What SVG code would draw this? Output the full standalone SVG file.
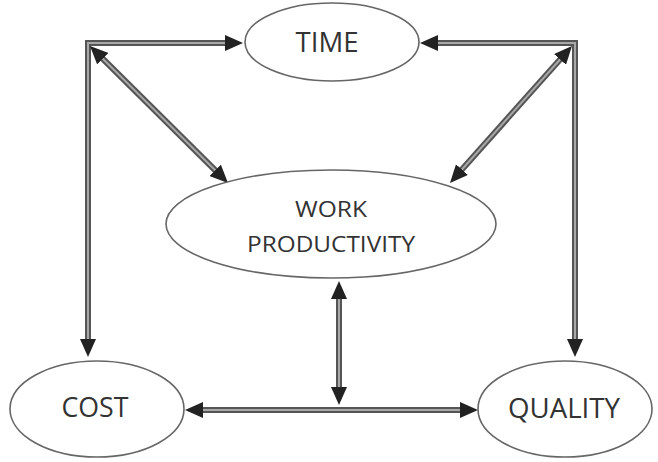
<svg xmlns="http://www.w3.org/2000/svg" width="658" height="462" viewBox="0 0 658 462">
<style>
.node ellipse{fill:#fff;stroke:#666;stroke-width:1.6}
.node text{font-family:"Open Sans","Liberation Sans",Arial,sans-serif;fill:#333;text-anchor:middle}
.big{font-size:27px}
.small{font-size:21px}
.outer{fill:none;stroke:#555;stroke-width:6;stroke-linejoin:miter}
.inner{fill:none;stroke:#a8a8a8;stroke-width:2;stroke-linejoin:miter}
.tips{fill:none;stroke:none;marker-start:url(#ah);marker-end:url(#ah)}
</style>
<defs>
<marker id="ah" viewBox="0 0 18 16" refX="18" refY="8" markerWidth="18" markerHeight="16" markerUnits="userSpaceOnUse" orient="auto-start-reverse">
<path d="M0,0 L18,8 L0,16 z" fill="#222"/>
</marker>
</defs>
<rect width="658" height="462" fill="#fff"/>
<g id="connectors">
<path class="outer" d="M234,43 L88,43 L88,348"/>
<path class="inner" d="M234,43 L88,43 L88,348"/>
<path class="tips" d="M243,43 L88,43 L88,357"/>
<path class="outer" d="M430,43 L575,43 L575,348"/>
<path class="inner" d="M430,43 L575,43 L575,348"/>
<path class="tips" d="M420,43 L575,43 L575,357"/>
<path class="outer" d="M97,53 L221,176"/>
<path class="inner" d="M97,53 L221,176"/>
<path class="tips" d="M90,46 L228,183"/>
<path class="outer" d="M565.4,53.5 L456.6,175.5"/>
<path class="inner" d="M565.4,53.5 L456.6,175.5"/>
<path class="tips" d="M572,46 L450,183"/>
<path class="outer" d="M195,410 L468,410"/>
<path class="inner" d="M195,410 L468,410"/>
<path class="tips" d="M185,410 L478,410"/>
<path class="outer" d="M339,291 L339,395"/>
<path class="inner" d="M339,291 L339,395"/>
<path class="tips" d="M339,281 L339,405"/>
</g>
<g id="time" class="node">
<ellipse cx="332" cy="42" rx="87" ry="39"/>
<text class="big" x="327" y="52" textLength="63" lengthAdjust="spacingAndGlyphs">TIME</text>
</g>
<g id="work-productivity" class="node">
<ellipse cx="331" cy="224" rx="165" ry="54"/>
<text class="small" x="331" y="217" textLength="72" lengthAdjust="spacingAndGlyphs">WORK</text>
<text class="small" x="331" y="252" textLength="168" lengthAdjust="spacingAndGlyphs">PRODUCTIVITY</text>
</g>
<g id="cost" class="node">
<ellipse cx="97" cy="409" rx="87" ry="48"/>
<text class="big" x="95" y="417" textLength="67" lengthAdjust="spacingAndGlyphs">COST</text>
</g>
<g id="quality" class="node">
<ellipse cx="565" cy="409" rx="87" ry="48"/>
<text class="big" x="564" y="418" textLength="112" lengthAdjust="spacingAndGlyphs">QUALITY</text>
</g>
</svg>
